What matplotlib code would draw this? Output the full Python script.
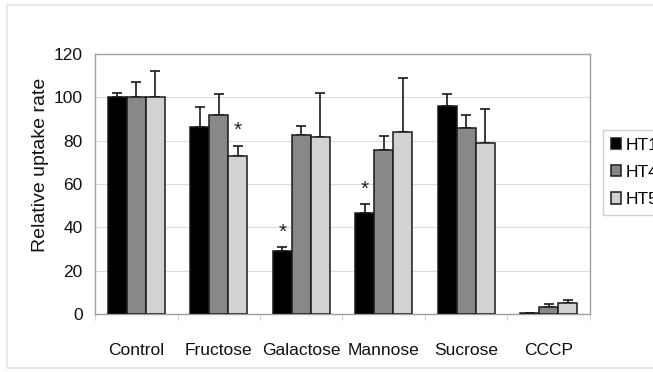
import numpy as np
import matplotlib
matplotlib.use("Agg")
import matplotlib.pyplot as plt
from matplotlib.patches import Rectangle

plt.rcParams['font.family'] = ['Liberation Sans', 'DejaVu Sans']

categories = ['Control', 'Fructose', 'Galactose', 'Mannose', 'Sucrose', 'CCCP']
series = ['HT1', 'HT4', 'HT5']
ht1 = [100, 86.5, 29.2, 46.5, 96.0, 0.6]
ht4 = [100, 92.0, 82.5, 75.5, 85.8, 3.4]
ht5 = [100, 73.0, 81.8, 83.8, 78.8, 5.2]
ht1_err = [2.0, 9.0, 1.8, 4.3, 5.7, 0.0]
ht4_err = [7.0, 9.7, 4.4, 6.5, 6.0, 1.2]
ht5_err = [12.0, 4.7, 20.0, 25.2, 15.8, 1.3]
# (series index, category index) of significant differences
stars = [(2, 1), (0, 2), (0, 3)]

values = [ht1, ht4, ht5]
errors = [ht1_err, ht4_err, ht5_err]
colors = ['#000000', '#888888', '#d2d2d2']

fig = plt.figure(figsize=(6.53, 3.72), dpi=100)
ax = fig.add_axes([0.1455, 0.1559, 0.758, 0.699])

# light frame around the whole chart
fig.patches.append(Rectangle((7 / 653, 4 / 372), 1.2, 363 / 372,
                             transform=fig.transFigure, fill=False,
                             edgecolor='#e4e4e4', linewidth=1.2, zorder=0))

x = np.arange(len(categories))
w = 0.23
for i, (vals, errs, c) in enumerate(zip(values, errors, colors)):
    pos = x + (i - 1) * w
    ax.bar(pos, vals, width=w, color=c, edgecolor='#1a1a1a', linewidth=1.1,
           label=series[i], zorder=3)
    ax.errorbar(pos, vals, yerr=[np.zeros(len(vals)), errs], fmt='none',
                ecolor='#1a1a1a', elinewidth=1.2, capsize=3.3, capthick=1.2,
                zorder=2)

for s, c in stars:
    top = values[s][c] + errors[s][c]
    ax.text(x[c] + (s - 1) * w, top + 2.5, '*', ha='center', va='bottom',
            fontsize=15, color='#222222')

ax.set_xlim(-0.5, len(categories) - 0.5)
ax.set_ylim(0, 120)
ax.set_yticks(range(0, 121, 20))
ax.yaxis.grid(True, color='#dcdcdc', linewidth=0.8)
ax.set_axisbelow(True)

ax.set_xticks(x)
ax.set_xticklabels(categories, fontsize=12.5, color='#111111')
ax.set_xticks(np.arange(-0.5, len(categories), 1.0), minor=True)
ax.tick_params(axis='x', which='major', length=0, pad=21)
ax.tick_params(axis='x', which='minor', length=4, color='#cccccc')
ax.tick_params(axis='y', length=0, pad=9, labelsize=12.5, labelcolor='#111111')

for side in ['left', 'right', 'top', 'bottom']:
    ax.spines[side].set_color('#a0a0a0')
    ax.spines[side].set_linewidth(1.0)

ax.set_ylabel('Relative uptake rate', fontsize=14, color='#111111')
ax.yaxis.set_label_coords(-0.092, 0.573)

leg = fig.legend(loc='upper left', bbox_to_anchor=(603 / 653, 242 / 372),
                 borderaxespad=0, fontsize=12.5, handlelength=0.6,
                 handleheight=0.6, handletextpad=0.25, labelspacing=0.7,
                 borderpad=0.45, fancybox=False, framealpha=1)
leg.get_frame().set_edgecolor('#cfcfcf')
leg.get_frame().set_linewidth(1.0)

fig.savefig('out.png', dpi=100)
